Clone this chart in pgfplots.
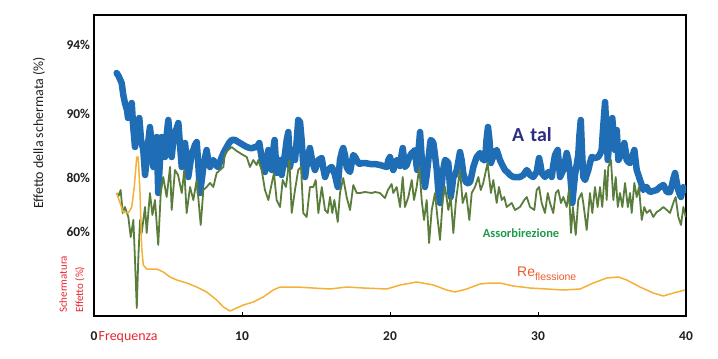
\documentclass[border=0pt]{standalone}
\usepackage{pgfplots}
\pgfplotsset{compat=1.18}
\usepackage{fontspec}
\setmainfont{Carlito}
\newfontfamily\arialfont{Liberation Sans}
\definecolor{cblue}{HTML}{1F6DB5}
\definecolor{cgreen}{HTML}{5A7D3C}
\definecolor{corange}{HTML}{F4B135}
\definecolor{cnavy}{HTML}{2E2D84}
\definecolor{ctgreen}{HTML}{1D9A4B}
\definecolor{cre}{HTML}{EF5B2B}
\definecolor{cred}{HTML}{E8262F}
\begin{document}
\begin{tikzpicture}[x=1bp,y=1bp]
\useasboundingbox (-94,-42) rectangle (624,316);
\begin{axis}[
  at={(0,0)}, anchor=south west, scale only axis,
  width=592bp, height=301bp,
  xmin=0, xmax=40, ymin=0, ymax=301,
  axis line style={line width=1.8bp, black},
  xtick={0,10,20,30,40}, xticklabels={0,10,20,30,40},
  ytick={84,138,202,271}, yticklabels={60\%,80\%,90\%,94\%},
  tick align=inside, xtick pos=left, major tick length=4bp,
  xtick style={line width=1bp, black},
  ytick style={draw=none},
  ticklabel style={font=\bfseries\fontsize{13.5}{13.5}\selectfont, text=black!88},
  xticklabel style={anchor=base, yshift=-24bp},
  yticklabel style={anchor=east, xshift=-0.5bp},
]
\addplot[cblue, line width=6.5bp, line join=round, line cap=round] coordinates {
(1.53,243)(1.66,240)(1.87,233)(1.98,221)(2.09,213)(2.23,206)(2.30,198)(2.43,206)(2.55,213)(2.64,191)(2.77,169)(2.91,186)(3.06,198)(3.18,176)(3.33,166)(3.45,141)(3.56,156)(3.68,176)(3.78,189)(3.90,171)(4.01,149)(4.12,166)(4.24,179)(4.34,123)(4.46,156)(4.57,179)(4.68,171)(4.80,159)(4.91,181)(5.02,196)(5.14,176)(5.25,159)(5.36,176)(5.47,183)(5.59,188)(5.70,193)(5.81,171)(5.93,149)(6.03,161)(6.15,173)(6.26,156)(6.37,139)(6.49,151)(6.60,163)(6.71,166)(6.82,171)(6.94,174)(7.05,151)(7.16,123)(7.28,136)(7.39,149)(7.50,158)(7.61,166)(7.72,156)(7.84,149)(7.95,153)(8.06,156)(8.18,153)(8.29,150)(8.40,149)(8.51,154)(8.63,159)(8.78,164)(8.97,169)(9.12,173)(9.30,176)(9.53,176)(9.75,174)(10.09,171)(10.32,169)(10.54,168)(10.74,168)(10.88,169)(11.01,169)(11.17,173)(11.33,158)(11.45,149)(11.55,144)(11.66,156)(11.78,166)(11.89,156)(12.01,146)(12.09,164)(12.20,176)(12.34,143)(12.45,151)(12.57,156)(12.68,141)(12.79,151)(12.91,163)(13.02,176)(13.13,184)(13.24,149)(13.36,161)(13.47,166)(13.58,156)(13.70,176)(13.80,196)(13.92,194)(14.03,176)(14.14,151)(14.26,139)(14.37,151)(14.48,161)(14.59,168)(14.71,158)(14.82,151)(14.93,146)(15.05,151)(15.16,156)(15.27,157)(15.39,158)(15.49,148)(15.61,139)(15.72,144)(15.83,146)(15.95,148)(16.06,149)(16.17,146)(16.28,141)(16.40,133)(16.47,129)(16.55,144)(16.62,156)(16.74,164)(16.84,168)(16.96,161)(17.07,149)(17.18,146)(17.30,144)(17.41,153)(17.52,161)(17.64,159)(17.75,156)(17.86,153)(17.97,152)(18.09,153)(18.31,153)(18.65,152)(18.99,152)(19.32,151)(19.55,150)(19.78,149)(19.89,156)(20.00,159)(20.11,151)(20.22,146)(20.34,151)(20.45,156)(20.56,153)(20.68,150)(20.78,161)(20.86,168)(20.95,156)(21.01,149)(21.13,151)(21.24,156)(21.35,160)(21.47,163)(21.57,164)(21.69,166)(21.79,151)(21.84,146)(21.93,166)(22.03,184)(22.13,161)(22.21,146)(22.30,136)(22.36,129)(22.48,141)(22.59,156)(22.70,171)(22.75,176)(22.84,175)(22.93,173)(23.04,161)(23.16,146)(23.26,126)(23.38,113)(23.48,126)(23.56,143)(23.65,151)(23.72,156)(23.83,155)(23.94,153)(24.02,136)(24.10,119)(24.19,128)(24.28,139)(24.39,141)(24.51,146)(24.61,154)(24.73,164)(24.84,156)(24.95,143)(25.07,136)(25.18,133)(25.29,133)(25.41,134)(25.52,141)(25.63,149)(25.74,154)(25.86,159)(25.97,161)(26.08,163)(26.20,159)(26.30,156)(26.42,156)(26.52,176)(26.62,189)(26.72,176)(26.82,153)(26.96,159)(27.09,164)(27.21,166)(27.32,161)(27.43,156)(27.55,152)(27.66,149)(27.77,146)(27.99,143)(28.11,141)(28.33,139)(28.56,139)(28.78,139)(29.01,141)(29.24,146)(29.34,144)(29.46,141)(29.68,139)(29.91,144)(30.07,158)(30.17,151)(30.25,143)(30.47,139)(30.70,144)(30.81,144)(30.93,139)(31.03,151)(31.15,161)(31.33,166)(31.42,151)(31.49,139)(31.71,146)(31.94,163)(32.05,156)(32.16,144)(32.26,126)(32.32,113)(32.40,126)(32.50,141)(32.61,151)(32.72,161)(32.80,181)(32.89,196)(32.97,166)(33.06,139)(33.18,136)(33.29,141)(33.40,146)(33.51,153)(33.63,159)(33.85,158)(34.07,159)(34.19,162)(34.30,166)(34.39,186)(34.53,214)(34.61,191)(34.71,156)(34.80,171)(34.86,183)(34.93,191)(35.02,198)(35.10,181)(35.20,166)(35.32,186)(35.43,156)(35.54,159)(35.66,161)(35.83,173)(35.91,166)(35.99,156)(36.10,154)(36.22,153)(36.35,159)(36.51,166)(36.59,156)(36.67,146)(36.78,141)(36.89,136)(37.01,131)(37.11,126)(37.23,128)(37.34,129)(37.45,126)(37.57,124)(37.79,125)(38.02,126)(38.24,129)(38.47,131)(38.58,128)(38.70,124)(38.92,124)(39.05,131)(39.16,138)(39.26,143)(39.37,134)(39.48,126)(39.59,121)(39.66,119)(39.82,129)(39.98,126)
};
\addplot[cgreen, line width=1.8bp, line join=round] coordinates {
(1.53,123)(1.66,120)(1.80,126)(1.94,103)(2.09,109)(2.32,99)(2.48,79)(2.66,96)(2.77,56)(2.89,8)(2.99,56)(3.11,96)(3.22,83)(3.45,109)(3.56,83)(3.78,123)(3.95,101)(4.12,116)(4.34,71)(4.51,123)(4.68,139)(4.91,119)(5.14,149)(5.25,106)(5.47,146)(5.68,141)(5.93,123)(6.10,146)(6.26,103)(6.49,129)(6.71,116)(6.94,136)(7.21,91)(7.39,126)(7.61,129)(7.84,133)(8.06,129)(8.29,143)(8.51,146)(8.74,149)(8.85,163)(9.07,166)(9.30,169)(9.64,165)(9.86,163)(10.07,161)(10.32,159)(10.54,149)(10.76,156)(10.99,151)(11.10,156)(11.33,146)(11.55,126)(11.78,116)(11.96,129)(12.16,143)(12.34,116)(12.57,109)(12.75,136)(12.97,129)(13.20,156)(13.36,103)(13.58,126)(13.80,146)(13.99,149)(14.14,103)(14.37,99)(14.59,129)(14.82,129)(14.98,136)(15.16,103)(15.39,129)(15.61,106)(15.79,103)(15.95,119)(16.10,103)(16.24,116)(16.47,94)(16.62,123)(16.84,138)(17.07,119)(17.30,106)(17.52,131)(17.75,123)(17.97,123)(18.31,124)(18.76,123)(18.99,124)(19.32,123)(19.66,118)(19.86,126)(20.11,132)(20.22,123)(20.45,129)(20.68,109)(20.86,139)(21.01,109)(21.24,119)(21.47,136)(21.62,116)(21.80,129)(21.98,149)(22.14,116)(22.30,96)(22.48,116)(22.64,73)(22.82,106)(23.04,123)(23.20,99)(23.38,76)(23.56,116)(23.72,129)(23.94,106)(24.10,119)(24.28,83)(24.46,116)(24.73,146)(24.91,113)(25.14,123)(25.36,96)(25.52,123)(25.74,129)(25.97,139)(26.13,126)(26.30,133)(26.59,153)(26.82,123)(26.98,136)(27.21,113)(27.36,129)(27.55,116)(27.72,119)(27.88,109)(28.22,113)(28.45,106)(28.78,109)(29.07,116)(29.24,119)(29.46,109)(29.75,106)(29.91,126)(30.07,129)(30.25,113)(30.47,103)(30.66,123)(30.81,113)(31.03,103)(31.20,123)(31.37,126)(31.55,113)(31.71,119)(31.94,109)(32.09,126)(32.23,83)(32.36,109)(32.55,81)(32.72,116)(32.95,123)(33.06,113)(33.18,99)(33.29,86)(33.51,123)(33.67,103)(33.85,129)(34.03,109)(34.19,129)(34.34,109)(34.53,146)(34.64,116)(34.75,149)(34.93,156)(35.09,116)(35.25,139)(35.39,109)(35.54,123)(35.70,109)(35.88,133)(36.07,109)(36.22,123)(36.33,103)(36.51,133)(36.67,119)(36.82,129)(37.01,96)(37.18,109)(37.34,103)(37.57,106)(37.79,99)(38.02,104)(38.24,106)(38.47,109)(38.70,106)(38.92,103)(39.14,113)(39.30,119)(39.48,99)(39.66,91)(39.82,109)(39.98,99)
};
\addplot[corange, line width=1.5bp, line join=round] coordinates {
(1.53,123)(1.76,113)(1.98,104)(2.32,103)(2.55,109)(2.72,129)(2.89,159)(2.99,159)(3.11,123)(3.22,69)(3.33,51)(3.56,47)(4.24,47)(4.68,44)(5.14,39)(5.59,36)(6.26,33)(6.94,29)(7.61,24)(8.29,16)(8.74,9)(9.19,5)(9.64,8)(10.09,11)(10.76,14)(11.44,19)(12.11,26)(12.57,29)(13.24,29)(13.70,29)(14.80,28)(15.95,27)(17.07,29)(18.20,28)(19.78,27)(20.68,31)(21.80,34)(22.93,31)(23.83,26)(24.39,24)(25.18,27)(26.08,32)(26.76,33)(27.43,33)(28.33,30)(29.46,28)(30.59,27)(31.71,26)(32.84,27)(33.74,33)(34.64,38)(35.43,39)(35.99,36)(36.89,29)(37.79,23)(38.47,20)(39.14,23)(39.93,26)
};
\end{axis}
\node[rotate=90, font=\fontsize{14}{14}\selectfont, text=black!88] at (-55,183) {Effetto della schermata (\%)};
\node[rotate=90, anchor=west, inner sep=0, font=\fontsize{11}{11}\selectfont, text=cred] at (-31,3) {Schermatura};
\node[rotate=90, anchor=west, inner sep=0, font=\fontsize{11}{11}\selectfont, text=cred] at (-14,3) {Effetto (\%)};
\node[anchor=base west, inner sep=0, font=\fontsize{14}{14}\selectfont, text=cred] at (4.5,-24) {Frequenza};
\node[anchor=base west, inner sep=0, font=\bfseries\fontsize{20}{20}\selectfont, text=cnavy] at (418,175) {A\hspace{6bp}tal};
\node[anchor=center, inner sep=0, font=\bfseries\fontsize{12.5}{12.5}\selectfont, text=ctgreen] at (427,83) {Assorbirezione};
\node[anchor=base west, inner sep=0, text=cre] at (423,39.5) {\arialfont\fontsize{14}{14}\selectfont Re\raisebox{-3.5bp}{\fontsize{10.5}{11}\selectfont flessione}};
\end{tikzpicture}
\end{document}
